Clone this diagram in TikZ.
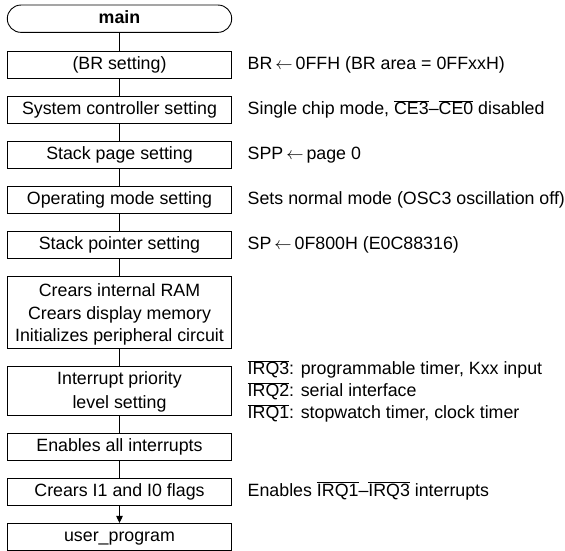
\documentclass[tikz,border=0pt]{standalone}
\usepackage{fontspec}
\setmainfont{Liberation Sans}
\usetikzlibrary{arrows.meta}
\newcommand\ovl[1]{$\overline{\mbox{#1}}$}
\newcommand\larr{\,$\leftarrow$\,}
\newcommand\fs{\fontsize{17.8}{22.5}\selectfont}
\tikzset{
  basebox/.style={draw, line width=0.9pt, minimum width=224.4pt, inner sep=0pt, align=center, font=\fs},
  box/.style={basebox, text height=13.3pt, text depth=3.7pt},
  term/.style={box, rounded corners=13.6pt, minimum height=27.3pt},
  note/.style={anchor=west, inner sep=0pt, align=left, font=\fs, text height=13.3pt, text depth=3.7pt},
  multinote/.style={anchor=west, inner sep=0pt, align=left, font=\fs},
  link/.style={line width=0.9pt}
}
\begin{document}
\begin{tikzpicture}[x=1pt,y=-1pt]
\useasboundingbox (0,0) rectangle (565,551);
\node[term] (main) at (119.5,18.7) {\textbf{main}};
\node[box, minimum height=26.6pt] (br) at (119.5,65) {(BR setting)};
\node[box, minimum height=26.6pt] (sys) at (119.5,110) {System controller setting};
\node[box, minimum height=26.6pt] (spp) at (119.5,155) {Stack page setting};
\node[box, minimum height=26.6pt] (op) at (119.5,200) {Operating mode setting};
\node[box, minimum height=26.6pt] (sp) at (119.5,245) {Stack pointer setting};
\node[basebox, minimum height=72.3pt] (ram) at (119.5,312.2) {\rule{0pt}{17.5pt}Crears internal RAM\\Crears display memory\\Initializes peripheral circuit};
\node[basebox, minimum height=49pt] (irq) at (119.5,390.5) {\rule{0pt}{15pt}Interrupt priority\\[1.5pt]level setting};
\node[box, minimum height=26.6pt] (en) at (119.5,446.7) {Enables all interrupts};
\node[box, minimum height=26.6pt] (cl) at (119.5,491.7) {Crears I1 and I0 flags};
\node[box, minimum height=26.6pt] (user) at (119.5,536.7) {user\_program};

\draw[link] (main) -- (br);
\draw[link] (br) -- (sys);
\draw[link] (sys) -- (spp);
\draw[link] (spp) -- (op);
\draw[link] (op) -- (sp);
\draw[link] (sp) -- (ram);
\draw[link] (ram) -- (irq);
\draw[link] (irq) -- (en);
\draw[link] (en) -- (cl);
\draw[link, -{Triangle[width=6.5pt,length=7pt]}] (cl) -- (user);

\node[note] (nbr) at (247.5,65) {BR\larr 0FFH (BR area = 0FFxxH)};
\node[note] (nsys) at (247.5,110) {Single chip mode, \ovl{CE3}–\ovl{CE0} disabled};
\node[note] (nspp) at (247.5,155) {SPP\larr page 0};
\node[note] (nop) at (247.5,200) {Sets normal mode (OSC3 oscillation off)};
\node[note] (nsp) at (247.5,245) {SP\larr 0F800H (E0C88316)};
\node[multinote] (nirq) at (247.5,391.5) {\ovl{IRQ3}: programmable timer, Kxx input\\[-0.5pt]\ovl{IRQ2}: serial interface\\[-0.5pt]\ovl{IRQ1}: stopwatch timer, clock timer};
\node[note] (ncl) at (247.5,491.7) {Enables \ovl{IRQ1}–\ovl{IRQ3} interrupts};
\end{tikzpicture}
\end{document}
